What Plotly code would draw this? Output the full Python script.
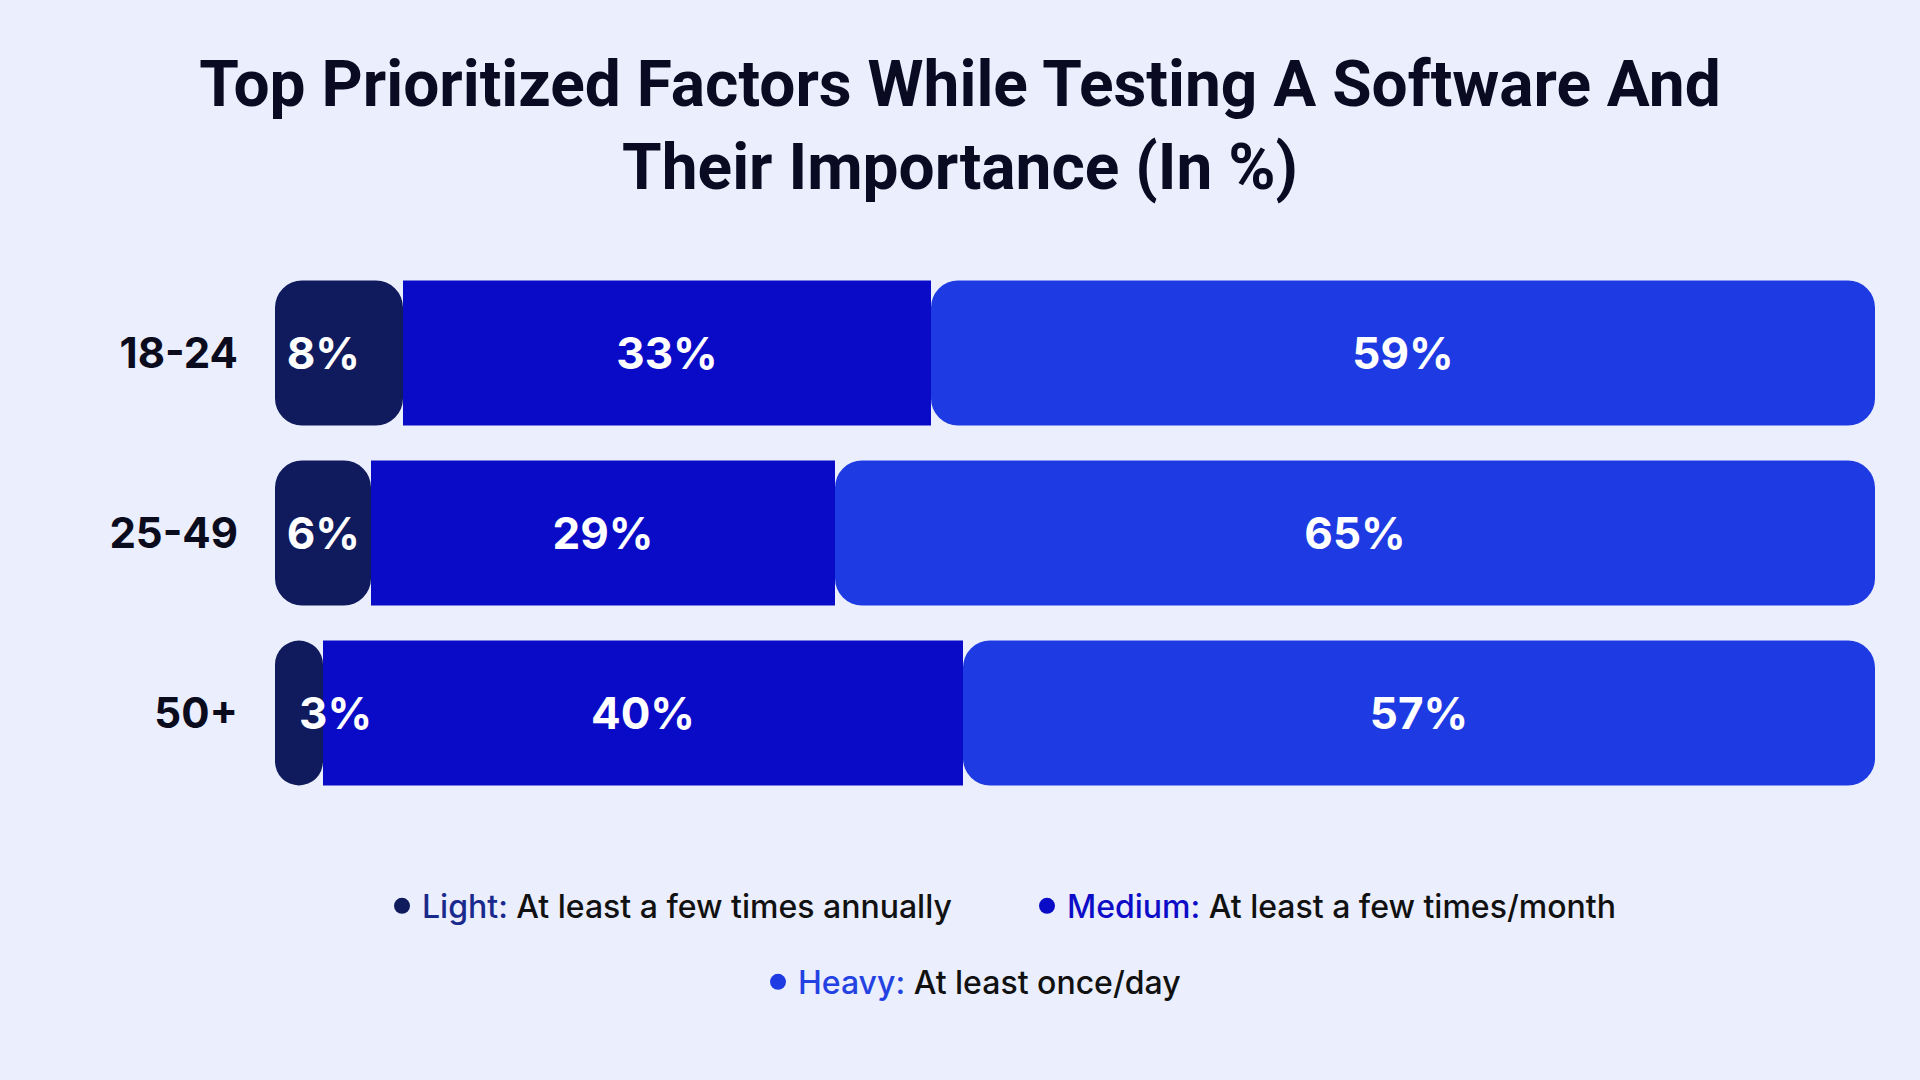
import plotly.graph_objects as go

# ---- data ----
age_groups = ["18-24", "25-49", "50+"]
light = [8, 6, 3]
medium = [33, 29, 40]
heavy = [59, 65, 57]

series_names = ["Light", "Medium", "Heavy"]
series_desc = ["At least a few times annually", "At least a few times/month", "At least once/day"]

title_text = "Top Prioritized Factors While Testing A Software And<br>Their Importance (In %)"

# ---- styles ----
BG = "#EAEEFD"
C_LIGHT = "#101B5D"
C_MED = "#0A0BC7"
C_HEAVY = "#1E3BE3"
LBL_LIGHT = "#1A2A8C"
LBL_MED = "#0D0DC8"
LBL_HEAVY = "#2442E2"
RADIUS = 27

bar_w = 0.805
txt_font = dict(family="Inter", size=44, color="white", weight=700)

fig = go.Figure()

fig.add_trace(go.Bar(
    y=age_groups, x=medium, base=light, orientation="h", name="Medium",
    width=bar_w, marker=dict(color=C_MED, line=dict(width=0)),
    text=[f"{v}%" for v in medium], textposition="inside", insidetextanchor="middle",
    textangle=0, constraintext="none", textfont=txt_font, showlegend=False, hoverinfo="skip",
))
fig.add_trace(go.Bar(
    y=age_groups, x=heavy, base=[a + b for a, b in zip(light, medium)], orientation="h", name="Heavy",
    width=bar_w, marker=dict(color=C_HEAVY, cornerradius=RADIUS, line=dict(width=0)),
    text=[f"{v}%" for v in heavy], textposition="inside", insidetextanchor="middle",
    textangle=0, constraintext="none", textfont=txt_font, showlegend=False, hoverinfo="skip",
))
# Light: drawn from its end back to zero so its rounded tip sits at the left edge;
# added last so its labels stay on top
fig.add_trace(go.Bar(
    y=age_groups, x=[-v for v in light], base=light, orientation="h", name="Light",
    width=bar_w, marker=dict(color=C_LIGHT, cornerradius=RADIUS, line=dict(width=0)),
    text=[f"{v}%" for v in light], textposition="inside", insidetextanchor="end",
    textangle=0, constraintext="none", cliponaxis=False,
    textfont=txt_font, showlegend=False, hoverinfo="skip",
))

# legend entries (circle markers)
leg_colors = [C_LIGHT, C_MED, C_HEAVY]
lbl_colors = [LBL_LIGHT, LBL_MED, LBL_HEAVY]
leg_ids = ["legend", "legend", "legend2"]
for name, desc, c, lc, lid in zip(series_names, series_desc, leg_colors, lbl_colors, leg_ids):
    fig.add_trace(go.Scatter(
        x=[None], y=[None], mode="markers",
        marker=dict(color=c, size=16, symbol="circle"),
        name=f"<span style='color:{lc}'>{name}:</span> {desc}",
        legend=lid, showlegend=True,
    ))

leg_font = dict(family="Inter", size=32, color="#111111", weight=500)
fig.update_layout(
    width=1920, height=1080,
    paper_bgcolor=BG, plot_bgcolor=BG,
    barmode="overlay",
    uniformtext=dict(minsize=44, mode="show"),
    margin=dict(l=275, r=45, t=263, b=277),
    title=dict(
        text=title_text, x=0.5, xanchor="center", xref="container",
        y=1 - 106 / 1080, yanchor="top", yref="container",
        font=dict(family="Roboto", size=64, color="#0A0B22", weight=700),
    ),
    xaxis=dict(range=[0, 100], visible=False, fixedrange=True),
    yaxis=dict(
        categoryorder="array", categoryarray=age_groups, autorange="reversed",
        showgrid=False, zeroline=False, showline=False, ticks="",
        ticklabelstandoff=36,
        tickfont=dict(family="Inter", size=42, color="#0B0B1E", weight=700),
    ),
    legend=dict(
        orientation="h", xref="container", yref="container",
        x=382 / 1920, xanchor="left", y=1 - 906 / 1080, yanchor="middle",
        font=leg_font, bgcolor="rgba(0,0,0,0)", itemsizing="trace",
        entrywidthmode="pixels", entrywidth=600,
    ),
    legend2=dict(
        orientation="h", xref="container", yref="container",
        x=758 / 1920, xanchor="left", y=1 - 982 / 1080, yanchor="middle",
        font=leg_font, bgcolor="rgba(0,0,0,0)", itemsizing="trace",
    ),
    showlegend=True,
)

fig.write_html("out.html")
